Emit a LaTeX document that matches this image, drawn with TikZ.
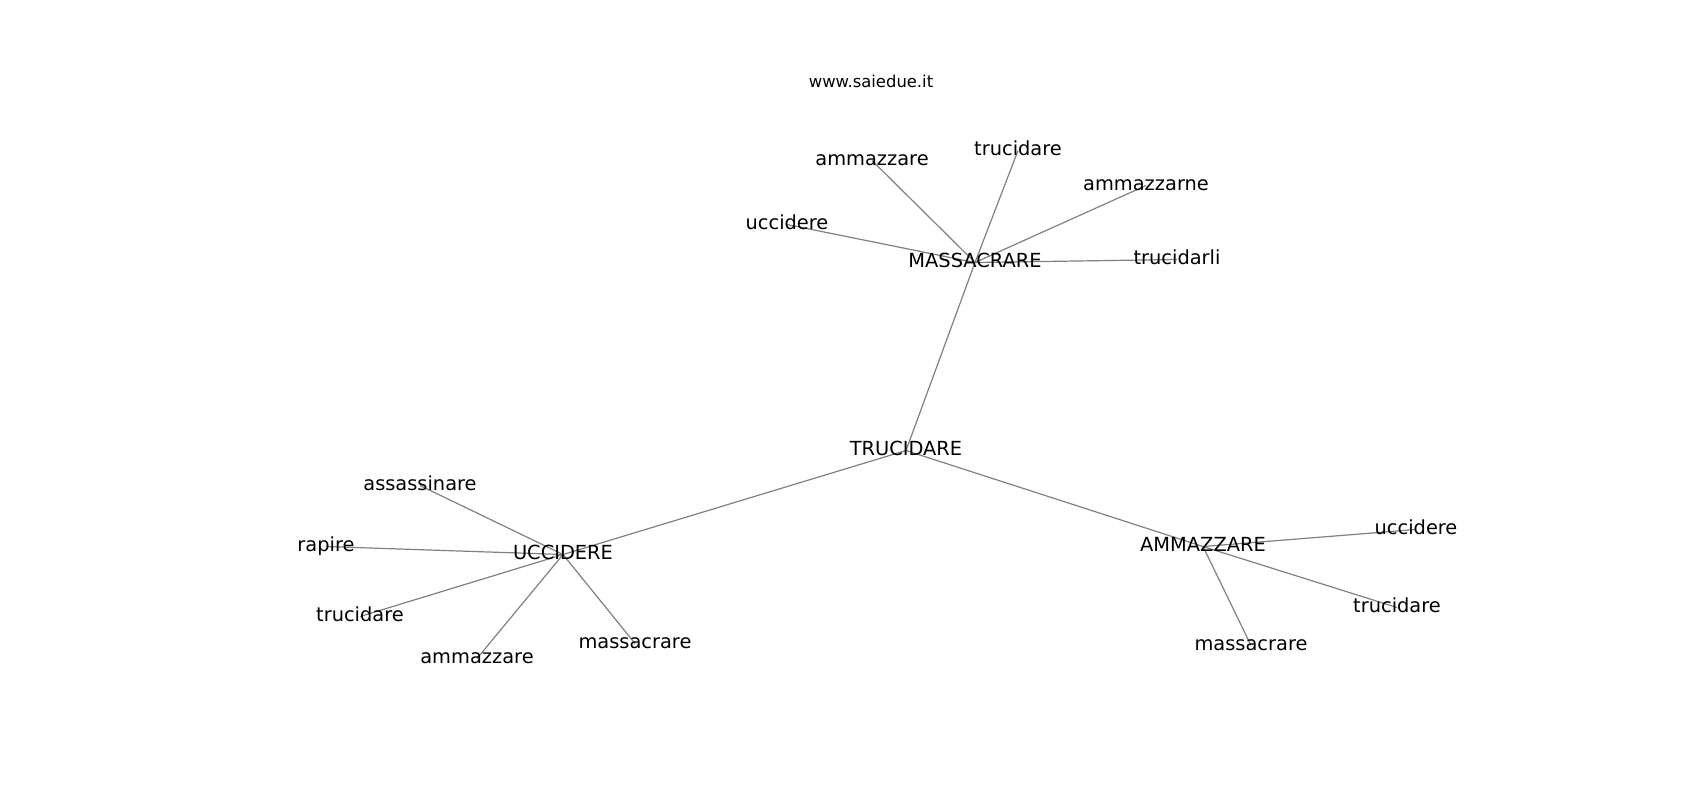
\documentclass[tikz,border=0pt]{standalone}
\usepackage{fontspec}
\setmainfont{DejaVu Sans}
\usetikzlibrary{backgrounds}
\tikzset{
  lbl/.style={inner sep=0pt, text height=0.76em, text depth=0.24em, font=\fontsize{9.7}{11}\selectfont},
  site/.style={inner sep=0pt, text height=0.76em, text depth=0.24em, font=\fontsize{8.2}{10}\selectfont},
  edge/.style={draw=gray, line width=0.6pt}
}
\begin{document}
\begin{tikzpicture}[x=0.5pt, y=-0.5pt]
\useasboundingbox (0,0) rectangle (1700,800);
\node[site] (site) at (871,82.5) {www.saiedue.it};
\node[lbl] (M) at (975,262.5) {MASSACRARE};
\node[lbl] (m1) at (872,160.5) {ammazzare};
\node[lbl] (m2) at (1018,150.5) {trucidare};
\node[lbl] (m3) at (1146,185.5) {ammazzarne};
\node[lbl] (m4) at (787,224.5) {uccidere};
\node[lbl] (m5) at (1177,259.5) {trucidarli};
\node[lbl] (T) at (906,450.5) {TRUCIDARE};
\node[lbl] (U) at (563,554.5) {UCCIDERE};
\node[lbl] (u1) at (420,485.5) {assassinare};
\node[lbl] (u2) at (326,546.5) {rapire};
\node[lbl] (u3) at (360,616.5) {trucidare};
\node[lbl] (u4) at (477,658.5) {ammazzare};
\node[lbl] (u5) at (635,643.5) {massacrare};
\node[lbl] (A) at (1203,546.5) {AMMAZZARE};
\node[lbl] (a1) at (1416,529.5) {uccidere};
\node[lbl] (a2) at (1397,607.5) {trucidare};
\node[lbl] (a3) at (1251,645.5) {massacrare};
\begin{scope}[on background layer]
\draw[edge] (M.center) -- (T.center);
\draw[edge] (U.center) -- (T.center);
\draw[edge] (A.center) -- (T.center);
\foreach \n in {m1,m2,m3,m4,m5} \draw[edge] (M.center) -- (\n.center);
\foreach \n in {u1,u2,u3,u4,u5} \draw[edge] (U.center) -- (\n.center);
\foreach \n in {a1,a2,a3} \draw[edge] (A.center) -- (\n.center);
\end{scope}
\end{tikzpicture}
\end{document}
